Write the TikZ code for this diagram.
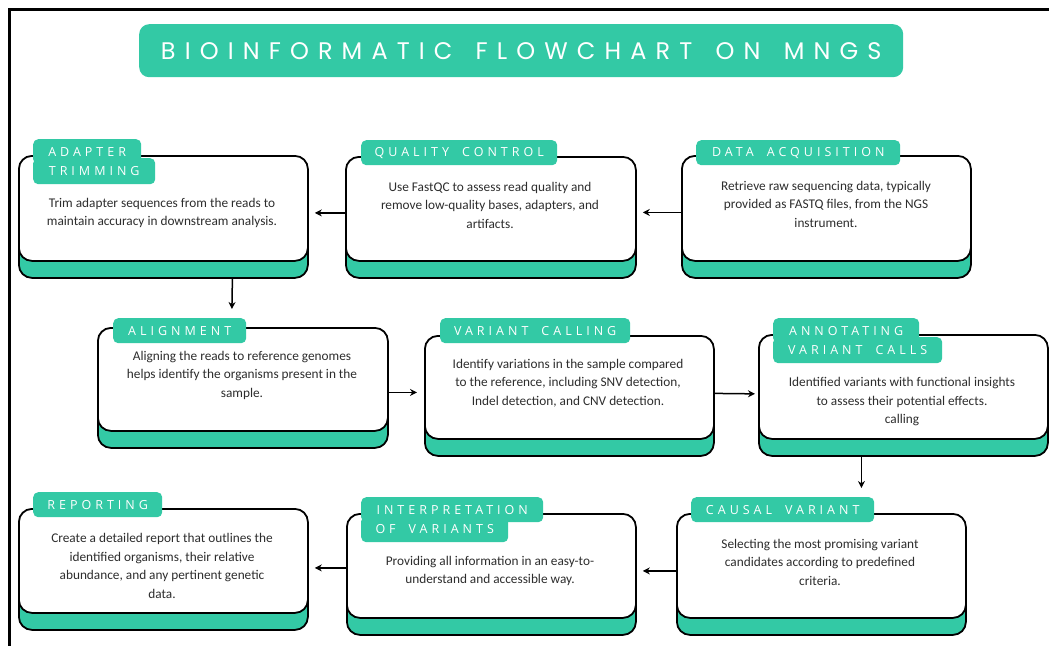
\documentclass[tikz,border=0pt]{standalone}
\usepackage{fontspec}
\setmainfont{Carlito}
\newfontfamily\titlefont[LetterSpace=38, WordSpace=1.5]{Poppins}
\newfontfamily\tabfont[LetterSpace=32, WordSpace=1.8]{Open Sans}
\usetikzlibrary{arrows.meta, positioning, calc, shadows}
\definecolor{mint}{RGB}{51, 201, 165}
\definecolor{ink}{RGB}{45, 45, 45}

\begin{document}
\begin{tikzpicture}[
  x=1pt, y=-1pt,
  card/.style={draw=black, line width=1.8pt, fill=white, rounded corners=13pt, anchor=north west, inner sep=0pt,
    general shadow={shadow yshift=-17pt, fill=mint, draw=black, line width=1.8pt}},
  tab/.style={fill=mint, rounded corners=5pt, anchor=north west, text=white,
    font=\tabfont\fontsize{12.5}{14}\selectfont, inner xsep=12pt, inner ysep=0pt,
    minimum height=25pt, minimum width=#1},
  txt/.style={font=\fontsize{13.3}{18.5}\selectfont, text=ink, align=center, inner sep=0pt},
  arr/.style={-{Stealth[length=7pt, width=7pt]}, line width=1.5pt},
]
  \useasboundingbox (0,0) rectangle (1049,645);
  \draw[line width=3pt] (9,660) -- (9,9) -- (1060,9);

  \node[fill=mint, rounded corners=10pt, anchor=north west, inner sep=0pt,
    minimum width=764pt, minimum height=53pt, text=white,
    font=\titlefont\fontsize{24}{28}\selectfont] (title) at (139,24) {BIOINFORMATIC FLOWCHART ON MNGS};

  % row 1
  \node[card, minimum width=289pt, minimum height=105pt] (at) at (18,155) {};
  \node[card, minimum width=290pt, minimum height=104pt] (qc) at (345,156) {};
  \node[card, minimum width=289pt, minimum height=105pt] (da) at (681,155) {};
  \node[tab=108pt] (attop) at (33,139) {ADAPTER};
  \node[tab=122pt, minimum height=26pt] (atbot) at (33,158) {TRIMMING};
  \node[tab=196pt] (qctab) at (361,140) {QUALITY CONTROL};
  \node[tab=204pt] (datab) at (696,140) {DATA ACQUISITION};
  \node[txt] (attxt) at (162,213) {Trim adapter sequences from the reads to\\maintain accuracy in downstream analysis.};
  \node[txt] (qctxt) at (490,205) {Use FastQC to assess read quality and\\remove low-quality bases, adapters, and\\artifacts.};
  \node[txt] (datxt) at (826,204) {Retrieve raw sequencing data, typically\\provided as FASTQ files, from the NGS\\instrument.};

  % row 2
  \node[card, minimum width=290pt, minimum height=103pt] (al) at (97,327) {};
  \node[card, minimum width=289pt, minimum height=103pt] (vc) at (424,335) {};
  \node[card, minimum width=289pt, minimum height=104pt] (an) at (758,334) {};
  \node[tab=133pt] (altab) at (113,318) {ALIGNMENT};
  \node[tab=190pt] (vctab) at (440,318) {VARIANT CALLING};
  \node[tab=146pt] (antop) at (773,318) {ANNOTATING};
  \node[tab=169pt, minimum height=26pt] (anbot) at (773,337) {VARIANT CALLS};
  \node[txt] (altxt) at (242,375) {Aligning the reads to reference genomes\\helps identify the organisms present in the\\sample.};
  \node[txt] (vctxt) at (568,383) {Identify variations in the sample compared\\to the reference, including SNV detection,\\Indel detection, and CNV detection.};
  \node[txt] (antxt) at (902,402) {Identified variants with functional insights\\to assess their potential effects.\\calling};

  % row 3
  \node[card, minimum width=289pt, minimum height=104pt] (rp) at (18,508) {};
  \node[card, minimum width=289pt, minimum height=104pt] (ip) at (346,513) {};
  \node[card, minimum width=289pt, minimum height=104pt] (cv) at (676,513) {};
  \node[tab=129pt] (rptab) at (33,492) {REPORTING};
  \node[tab=182pt] (iptop) at (361,497) {INTERPRETATION};
  \node[tab=147pt, minimum height=26pt] (ipbot) at (361,516) {OF VARIANTS};
  \node[tab=183pt] (cvtab) at (691,497) {CAUSAL VARIANT};
  \node[txt] (rptxt) at (162,566) {Create a detailed report that outlines the\\identified organisms, their relative\\abundance, and any pertinent genetic\\data.};
  \node[txt] (iptxt) at (490,571) {Providing all information in an easy-to-\\understand and accessible way.};
  \node[txt] (cvtxt) at (820,562) {Selecting the most promising variant\\candidates according to predefined\\criteria.};

  % connectors
  \draw[arr, shorten >=6pt] ([yshift=-4pt]qc.west) -- ([yshift=-4pt]qc.west -| at.east);
  \draw[arr, shorten >=6pt] ([yshift=-4pt]da.west) -- ([yshift=-4pt]da.west -| qc.east);
  \draw[arr] ($(at.south)+(69,17)$) -- ($(al.north)+(-11,-18)$);
  \draw[arr, shorten >=7pt] ([yshift=-13pt]al.east) -- ([yshift=-13pt]al.east -| vc.west);
  \draw[arr, shorten >=3pt] ([yshift=-6pt]vc.east) -- ([yshift=-7pt]an.west);
  \draw[arr] ($(an.south)+(-42,17)$) -- ($(cv.north)+(40,-25)$);
  \draw[arr, shorten >=6pt] ([yshift=-5pt]cv.west) -- ([yshift=-5pt]cv.west -| ip.east);
  \draw[arr, shorten >=6pt] ([yshift=-2pt]ip.west) -- ([yshift=-2pt]ip.west -| rp.east);
\end{tikzpicture}
\end{document}
